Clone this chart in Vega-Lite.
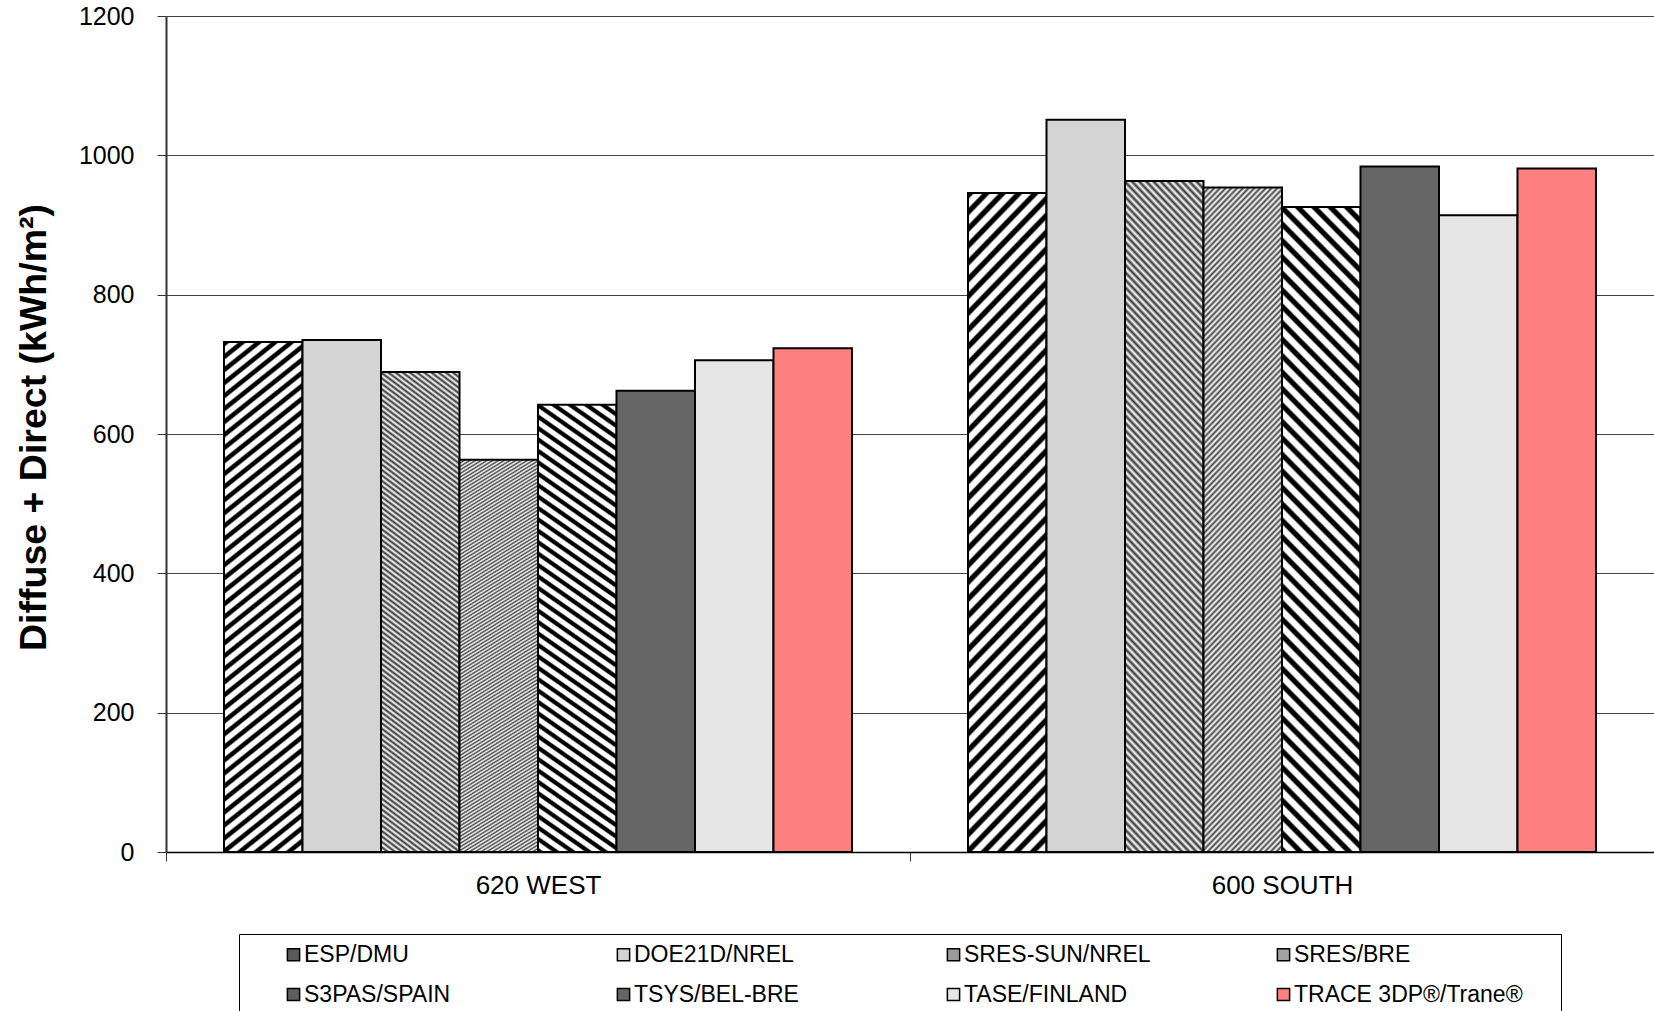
{
  "$schema": "https://vega.github.io/schema/vega-lite/v6.json",
  "width": 1488,
  "height": 836,
  "autosize": {"type": "none"},
  "padding": {"left": 166, "top": 16, "right": 0, "bottom": 159},
  "background": "white",
  "config": {
    "view": {"stroke": null},
    "font": "Liberation Sans"
  },
  "data": {
    "values": [
      {"case": "620 WEST", "program": "ESP/DMU", "value": 732},
      {"case": "620 WEST", "program": "DOE21D/NREL", "value": 735},
      {"case": "620 WEST", "program": "SRES-SUN/NREL", "value": 689},
      {"case": "620 WEST", "program": "SRES/BRE", "value": 563},
      {"case": "620 WEST", "program": "S3PAS/SPAIN", "value": 642},
      {"case": "620 WEST", "program": "TSYS/BEL-BRE", "value": 662},
      {"case": "620 WEST", "program": "TASE/FINLAND", "value": 706},
      {"case": "620 WEST", "program": "TRACE 3DP®/Trane®", "value": 723},
      {"case": "600 SOUTH", "program": "ESP/DMU", "value": 946},
      {"case": "600 SOUTH", "program": "DOE21D/NREL", "value": 1051},
      {"case": "600 SOUTH", "program": "SRES-SUN/NREL", "value": 963},
      {"case": "600 SOUTH", "program": "SRES/BRE", "value": 954},
      {"case": "600 SOUTH", "program": "S3PAS/SPAIN", "value": 926},
      {"case": "600 SOUTH", "program": "TSYS/BEL-BRE", "value": 984},
      {"case": "600 SOUTH", "program": "TASE/FINLAND", "value": 914},
      {"case": "600 SOUTH", "program": "TRACE 3DP®/Trane®", "value": 981}
    ]
  },
  "mark": {"type": "bar", "stroke": "black", "strokeWidth": 2},
  "encoding": {
    "x": {
      "field": "case",
      "type": "nominal",
      "sort": ["620 WEST", "600 SOUTH"],
      "scale": {"paddingInner": 0, "paddingOuter": 0},
      "axis": {
        "title": null,
        "labelAngle": 0,
        "labelFontSize": 26,
        "labelColor": "black",
        "labelPadding": 11,
        "tickBand": "extent",
        "tickSize": 9,
        "tickColor": "#333",
        "domainColor": "black",
        "domainWidth": 1.5,
        "grid": false
      }
    },
    "xOffset": {
      "field": "program",
      "type": "nominal",
      "sort": ["ESP/DMU", "DOE21D/NREL", "SRES-SUN/NREL", "SRES/BRE", "S3PAS/SPAIN", "TSYS/BEL-BRE", "TASE/FINLAND", "TRACE 3DP®/Trane®"],
      "scale": {"paddingInner": 0, "paddingOuter": 0.739}
    },
    "y": {
      "field": "value",
      "type": "quantitative",
      "scale": {"domain": [0, 1200], "nice": false},
      "axis": {
        "title": "Diffuse + Direct (kWh/m²)",
        "titleFontSize": 37.5,
        "titleFontWeight": "bold",
        "titleColor": "black",
        "titlePadding": 25,
        "titleY": 411,
        "values": [0, 200, 400, 600, 800, 1000, 1200],
        "format": "d",
        "labelFontSize": 25,
        "labelColor": "black",
        "labelPadding": 23,
        "tickSize": 9,
        "tickColor": "#333",
        "domainColor": "#333",
        "domainWidth": 2,
        "grid": true,
        "gridColor": "#444",
        "gridWidth": 1
      }
    },
    "fill": {
      "condition": [
        {"test": "datum.program === 'ESP/DMU'", "value": {"gradient": "linear", "x1": 0, "y1": 0, "x2": 0.136, "y2": 1.106, "stops": [
          {"offset": 0, "color": "#000"}, {"offset": 0.0068, "color": "#000"}, {"offset": 0.0102, "color": "#fff"}, {"offset": 0.0193, "color": "#fff"},
          {"offset": 0.0227, "color": "#000"}, {"offset": 0.0295, "color": "#000"}, {"offset": 0.033, "color": "#fff"}, {"offset": 0.042, "color": "#fff"},
          {"offset": 0.0455, "color": "#000"}, {"offset": 0.0523, "color": "#000"}, {"offset": 0.0557, "color": "#fff"}, {"offset": 0.0648, "color": "#fff"},
          {"offset": 0.0682, "color": "#000"}, {"offset": 0.075, "color": "#000"}, {"offset": 0.0784, "color": "#fff"}, {"offset": 0.0875, "color": "#fff"},
          {"offset": 0.0909, "color": "#000"}, {"offset": 0.0977, "color": "#000"}, {"offset": 0.1011, "color": "#fff"}, {"offset": 0.1102, "color": "#fff"},
          {"offset": 0.1136, "color": "#000"}, {"offset": 0.1205, "color": "#000"}, {"offset": 0.1239, "color": "#fff"}, {"offset": 0.133, "color": "#fff"},
          {"offset": 0.1364, "color": "#000"}, {"offset": 0.1432, "color": "#000"}, {"offset": 0.1466, "color": "#fff"}, {"offset": 0.1557, "color": "#fff"},
          {"offset": 0.1591, "color": "#000"}, {"offset": 0.1659, "color": "#000"}, {"offset": 0.1693, "color": "#fff"}, {"offset": 0.1784, "color": "#fff"},
          {"offset": 0.1818, "color": "#000"}, {"offset": 0.1886, "color": "#000"}, {"offset": 0.192, "color": "#fff"}, {"offset": 0.2011, "color": "#fff"},
          {"offset": 0.2045, "color": "#000"}, {"offset": 0.2114, "color": "#000"}, {"offset": 0.2148, "color": "#fff"}, {"offset": 0.2239, "color": "#fff"},
          {"offset": 0.2273, "color": "#000"}, {"offset": 0.2341, "color": "#000"}, {"offset": 0.2375, "color": "#fff"}, {"offset": 0.2466, "color": "#fff"},
          {"offset": 0.25, "color": "#000"}, {"offset": 0.2568, "color": "#000"}, {"offset": 0.2602, "color": "#fff"}, {"offset": 0.2693, "color": "#fff"},
          {"offset": 0.2727, "color": "#000"}, {"offset": 0.2795, "color": "#000"}, {"offset": 0.283, "color": "#fff"}, {"offset": 0.292, "color": "#fff"},
          {"offset": 0.2955, "color": "#000"}, {"offset": 0.3023, "color": "#000"}, {"offset": 0.3057, "color": "#fff"}, {"offset": 0.3148, "color": "#fff"},
          {"offset": 0.3182, "color": "#000"}, {"offset": 0.325, "color": "#000"}, {"offset": 0.3284, "color": "#fff"}, {"offset": 0.3375, "color": "#fff"},
          {"offset": 0.3409, "color": "#000"}, {"offset": 0.3477, "color": "#000"}, {"offset": 0.3511, "color": "#fff"}, {"offset": 0.3602, "color": "#fff"},
          {"offset": 0.3636, "color": "#000"}, {"offset": 0.3705, "color": "#000"}, {"offset": 0.3739, "color": "#fff"}, {"offset": 0.383, "color": "#fff"},
          {"offset": 0.3864, "color": "#000"}, {"offset": 0.3932, "color": "#000"}, {"offset": 0.3966, "color": "#fff"}, {"offset": 0.4057, "color": "#fff"},
          {"offset": 0.4091, "color": "#000"}, {"offset": 0.4159, "color": "#000"}, {"offset": 0.4193, "color": "#fff"}, {"offset": 0.4284, "color": "#fff"},
          {"offset": 0.4318, "color": "#000"}, {"offset": 0.4386, "color": "#000"}, {"offset": 0.442, "color": "#fff"}, {"offset": 0.4511, "color": "#fff"},
          {"offset": 0.4545, "color": "#000"}, {"offset": 0.4614, "color": "#000"}, {"offset": 0.4648, "color": "#fff"}, {"offset": 0.4739, "color": "#fff"},
          {"offset": 0.4773, "color": "#000"}, {"offset": 0.4841, "color": "#000"}, {"offset": 0.4875, "color": "#fff"}, {"offset": 0.4966, "color": "#fff"},
          {"offset": 0.5, "color": "#000"}, {"offset": 0.5068, "color": "#000"}, {"offset": 0.5102, "color": "#fff"}, {"offset": 0.5193, "color": "#fff"},
          {"offset": 0.5227, "color": "#000"}, {"offset": 0.5295, "color": "#000"}, {"offset": 0.533, "color": "#fff"}, {"offset": 0.542, "color": "#fff"},
          {"offset": 0.5455, "color": "#000"}, {"offset": 0.5523, "color": "#000"}, {"offset": 0.5557, "color": "#fff"}, {"offset": 0.5648, "color": "#fff"},
          {"offset": 0.5682, "color": "#000"}, {"offset": 0.575, "color": "#000"}, {"offset": 0.5784, "color": "#fff"}, {"offset": 0.5875, "color": "#fff"},
          {"offset": 0.5909, "color": "#000"}, {"offset": 0.5977, "color": "#000"}, {"offset": 0.6011, "color": "#fff"}, {"offset": 0.6102, "color": "#fff"},
          {"offset": 0.6136, "color": "#000"}, {"offset": 0.6205, "color": "#000"}, {"offset": 0.6239, "color": "#fff"}, {"offset": 0.633, "color": "#fff"},
          {"offset": 0.6364, "color": "#000"}, {"offset": 0.6432, "color": "#000"}, {"offset": 0.6466, "color": "#fff"}, {"offset": 0.6557, "color": "#fff"},
          {"offset": 0.6591, "color": "#000"}, {"offset": 0.6659, "color": "#000"}, {"offset": 0.6693, "color": "#fff"}, {"offset": 0.6784, "color": "#fff"},
          {"offset": 0.6818, "color": "#000"}, {"offset": 0.6886, "color": "#000"}, {"offset": 0.692, "color": "#fff"}, {"offset": 0.7011, "color": "#fff"},
          {"offset": 0.7045, "color": "#000"}, {"offset": 0.7114, "color": "#000"}, {"offset": 0.7148, "color": "#fff"}, {"offset": 0.7239, "color": "#fff"},
          {"offset": 0.7273, "color": "#000"}, {"offset": 0.7341, "color": "#000"}, {"offset": 0.7375, "color": "#fff"}, {"offset": 0.7466, "color": "#fff"},
          {"offset": 0.75, "color": "#000"}, {"offset": 0.7568, "color": "#000"}, {"offset": 0.7602, "color": "#fff"}, {"offset": 0.7693, "color": "#fff"},
          {"offset": 0.7727, "color": "#000"}, {"offset": 0.7795, "color": "#000"}, {"offset": 0.783, "color": "#fff"}, {"offset": 0.792, "color": "#fff"},
          {"offset": 0.7955, "color": "#000"}, {"offset": 0.8023, "color": "#000"}, {"offset": 0.8057, "color": "#fff"}, {"offset": 0.8148, "color": "#fff"},
          {"offset": 0.8182, "color": "#000"}, {"offset": 0.825, "color": "#000"}, {"offset": 0.8284, "color": "#fff"}, {"offset": 0.8375, "color": "#fff"},
          {"offset": 0.8409, "color": "#000"}, {"offset": 0.8477, "color": "#000"}, {"offset": 0.8511, "color": "#fff"}, {"offset": 0.8602, "color": "#fff"},
          {"offset": 0.8636, "color": "#000"}, {"offset": 0.8705, "color": "#000"}, {"offset": 0.8739, "color": "#fff"}, {"offset": 0.883, "color": "#fff"},
          {"offset": 0.8864, "color": "#000"}, {"offset": 0.8932, "color": "#000"}, {"offset": 0.8966, "color": "#fff"}, {"offset": 0.9057, "color": "#fff"},
          {"offset": 0.9091, "color": "#000"}, {"offset": 0.9159, "color": "#000"}, {"offset": 0.9193, "color": "#fff"}, {"offset": 0.9284, "color": "#fff"},
          {"offset": 0.9318, "color": "#000"}, {"offset": 0.9386, "color": "#000"}, {"offset": 0.942, "color": "#fff"}, {"offset": 0.9511, "color": "#fff"},
          {"offset": 0.9545, "color": "#000"}, {"offset": 0.9614, "color": "#000"}, {"offset": 0.9648, "color": "#fff"}, {"offset": 0.9739, "color": "#fff"},
          {"offset": 0.9773, "color": "#000"}, {"offset": 0.9841, "color": "#000"}, {"offset": 0.9875, "color": "#fff"}, {"offset": 0.9966, "color": "#fff"},
          {"offset": 1, "color": "#000"}
        ]}},
        {"test": "datum.program === 'S3PAS/SPAIN'", "value": {"gradient": "linear", "x1": 0, "y1": 1, "x2": 0.136, "y2": -0.106, "stops": [
          {"offset": 0, "color": "#000"}, {"offset": 0.0068, "color": "#000"}, {"offset": 0.0102, "color": "#fff"}, {"offset": 0.0193, "color": "#fff"},
          {"offset": 0.0227, "color": "#000"}, {"offset": 0.0295, "color": "#000"}, {"offset": 0.033, "color": "#fff"}, {"offset": 0.042, "color": "#fff"},
          {"offset": 0.0455, "color": "#000"}, {"offset": 0.0523, "color": "#000"}, {"offset": 0.0557, "color": "#fff"}, {"offset": 0.0648, "color": "#fff"},
          {"offset": 0.0682, "color": "#000"}, {"offset": 0.075, "color": "#000"}, {"offset": 0.0784, "color": "#fff"}, {"offset": 0.0875, "color": "#fff"},
          {"offset": 0.0909, "color": "#000"}, {"offset": 0.0977, "color": "#000"}, {"offset": 0.1011, "color": "#fff"}, {"offset": 0.1102, "color": "#fff"},
          {"offset": 0.1136, "color": "#000"}, {"offset": 0.1205, "color": "#000"}, {"offset": 0.1239, "color": "#fff"}, {"offset": 0.133, "color": "#fff"},
          {"offset": 0.1364, "color": "#000"}, {"offset": 0.1432, "color": "#000"}, {"offset": 0.1466, "color": "#fff"}, {"offset": 0.1557, "color": "#fff"},
          {"offset": 0.1591, "color": "#000"}, {"offset": 0.1659, "color": "#000"}, {"offset": 0.1693, "color": "#fff"}, {"offset": 0.1784, "color": "#fff"},
          {"offset": 0.1818, "color": "#000"}, {"offset": 0.1886, "color": "#000"}, {"offset": 0.192, "color": "#fff"}, {"offset": 0.2011, "color": "#fff"},
          {"offset": 0.2045, "color": "#000"}, {"offset": 0.2114, "color": "#000"}, {"offset": 0.2148, "color": "#fff"}, {"offset": 0.2239, "color": "#fff"},
          {"offset": 0.2273, "color": "#000"}, {"offset": 0.2341, "color": "#000"}, {"offset": 0.2375, "color": "#fff"}, {"offset": 0.2466, "color": "#fff"},
          {"offset": 0.25, "color": "#000"}, {"offset": 0.2568, "color": "#000"}, {"offset": 0.2602, "color": "#fff"}, {"offset": 0.2693, "color": "#fff"},
          {"offset": 0.2727, "color": "#000"}, {"offset": 0.2795, "color": "#000"}, {"offset": 0.283, "color": "#fff"}, {"offset": 0.292, "color": "#fff"},
          {"offset": 0.2955, "color": "#000"}, {"offset": 0.3023, "color": "#000"}, {"offset": 0.3057, "color": "#fff"}, {"offset": 0.3148, "color": "#fff"},
          {"offset": 0.3182, "color": "#000"}, {"offset": 0.325, "color": "#000"}, {"offset": 0.3284, "color": "#fff"}, {"offset": 0.3375, "color": "#fff"},
          {"offset": 0.3409, "color": "#000"}, {"offset": 0.3477, "color": "#000"}, {"offset": 0.3511, "color": "#fff"}, {"offset": 0.3602, "color": "#fff"},
          {"offset": 0.3636, "color": "#000"}, {"offset": 0.3705, "color": "#000"}, {"offset": 0.3739, "color": "#fff"}, {"offset": 0.383, "color": "#fff"},
          {"offset": 0.3864, "color": "#000"}, {"offset": 0.3932, "color": "#000"}, {"offset": 0.3966, "color": "#fff"}, {"offset": 0.4057, "color": "#fff"},
          {"offset": 0.4091, "color": "#000"}, {"offset": 0.4159, "color": "#000"}, {"offset": 0.4193, "color": "#fff"}, {"offset": 0.4284, "color": "#fff"},
          {"offset": 0.4318, "color": "#000"}, {"offset": 0.4386, "color": "#000"}, {"offset": 0.442, "color": "#fff"}, {"offset": 0.4511, "color": "#fff"},
          {"offset": 0.4545, "color": "#000"}, {"offset": 0.4614, "color": "#000"}, {"offset": 0.4648, "color": "#fff"}, {"offset": 0.4739, "color": "#fff"},
          {"offset": 0.4773, "color": "#000"}, {"offset": 0.4841, "color": "#000"}, {"offset": 0.4875, "color": "#fff"}, {"offset": 0.4966, "color": "#fff"},
          {"offset": 0.5, "color": "#000"}, {"offset": 0.5068, "color": "#000"}, {"offset": 0.5102, "color": "#fff"}, {"offset": 0.5193, "color": "#fff"},
          {"offset": 0.5227, "color": "#000"}, {"offset": 0.5295, "color": "#000"}, {"offset": 0.533, "color": "#fff"}, {"offset": 0.542, "color": "#fff"},
          {"offset": 0.5455, "color": "#000"}, {"offset": 0.5523, "color": "#000"}, {"offset": 0.5557, "color": "#fff"}, {"offset": 0.5648, "color": "#fff"},
          {"offset": 0.5682, "color": "#000"}, {"offset": 0.575, "color": "#000"}, {"offset": 0.5784, "color": "#fff"}, {"offset": 0.5875, "color": "#fff"},
          {"offset": 0.5909, "color": "#000"}, {"offset": 0.5977, "color": "#000"}, {"offset": 0.6011, "color": "#fff"}, {"offset": 0.6102, "color": "#fff"},
          {"offset": 0.6136, "color": "#000"}, {"offset": 0.6205, "color": "#000"}, {"offset": 0.6239, "color": "#fff"}, {"offset": 0.633, "color": "#fff"},
          {"offset": 0.6364, "color": "#000"}, {"offset": 0.6432, "color": "#000"}, {"offset": 0.6466, "color": "#fff"}, {"offset": 0.6557, "color": "#fff"},
          {"offset": 0.6591, "color": "#000"}, {"offset": 0.6659, "color": "#000"}, {"offset": 0.6693, "color": "#fff"}, {"offset": 0.6784, "color": "#fff"},
          {"offset": 0.6818, "color": "#000"}, {"offset": 0.6886, "color": "#000"}, {"offset": 0.692, "color": "#fff"}, {"offset": 0.7011, "color": "#fff"},
          {"offset": 0.7045, "color": "#000"}, {"offset": 0.7114, "color": "#000"}, {"offset": 0.7148, "color": "#fff"}, {"offset": 0.7239, "color": "#fff"},
          {"offset": 0.7273, "color": "#000"}, {"offset": 0.7341, "color": "#000"}, {"offset": 0.7375, "color": "#fff"}, {"offset": 0.7466, "color": "#fff"},
          {"offset": 0.75, "color": "#000"}, {"offset": 0.7568, "color": "#000"}, {"offset": 0.7602, "color": "#fff"}, {"offset": 0.7693, "color": "#fff"},
          {"offset": 0.7727, "color": "#000"}, {"offset": 0.7795, "color": "#000"}, {"offset": 0.783, "color": "#fff"}, {"offset": 0.792, "color": "#fff"},
          {"offset": 0.7955, "color": "#000"}, {"offset": 0.8023, "color": "#000"}, {"offset": 0.8057, "color": "#fff"}, {"offset": 0.8148, "color": "#fff"},
          {"offset": 0.8182, "color": "#000"}, {"offset": 0.825, "color": "#000"}, {"offset": 0.8284, "color": "#fff"}, {"offset": 0.8375, "color": "#fff"},
          {"offset": 0.8409, "color": "#000"}, {"offset": 0.8477, "color": "#000"}, {"offset": 0.8511, "color": "#fff"}, {"offset": 0.8602, "color": "#fff"},
          {"offset": 0.8636, "color": "#000"}, {"offset": 0.8705, "color": "#000"}, {"offset": 0.8739, "color": "#fff"}, {"offset": 0.883, "color": "#fff"},
          {"offset": 0.8864, "color": "#000"}, {"offset": 0.8932, "color": "#000"}, {"offset": 0.8966, "color": "#fff"}, {"offset": 0.9057, "color": "#fff"},
          {"offset": 0.9091, "color": "#000"}, {"offset": 0.9159, "color": "#000"}, {"offset": 0.9193, "color": "#fff"}, {"offset": 0.9284, "color": "#fff"},
          {"offset": 0.9318, "color": "#000"}, {"offset": 0.9386, "color": "#000"}, {"offset": 0.942, "color": "#fff"}, {"offset": 0.9511, "color": "#fff"},
          {"offset": 0.9545, "color": "#000"}, {"offset": 0.9614, "color": "#000"}, {"offset": 0.9648, "color": "#fff"}, {"offset": 0.9739, "color": "#fff"},
          {"offset": 0.9773, "color": "#000"}, {"offset": 0.9841, "color": "#000"}, {"offset": 0.9875, "color": "#fff"}, {"offset": 0.9966, "color": "#fff"},
          {"offset": 1, "color": "#000"}
        ]}},
        {"test": "datum.program === 'SRES-SUN/NREL'", "value": {"gradient": "linear", "x1": 0, "y1": 1, "x2": 0.136, "y2": -0.106, "stops": [
          {"offset": 0, "color": "#333"}, {"offset": 0.005, "color": "#fff"}, {"offset": 0.01, "color": "#333"}, {"offset": 0.015, "color": "#fff"}, {"offset": 0.02, "color": "#333"}, {"offset": 0.025, "color": "#fff"}, {"offset": 0.03, "color": "#333"}, {"offset": 0.035, "color": "#fff"}, {"offset": 0.04, "color": "#333"}, {"offset": 0.045, "color": "#fff"},
          {"offset": 0.05, "color": "#333"}, {"offset": 0.055, "color": "#fff"}, {"offset": 0.06, "color": "#333"}, {"offset": 0.065, "color": "#fff"}, {"offset": 0.07, "color": "#333"}, {"offset": 0.075, "color": "#fff"}, {"offset": 0.08, "color": "#333"}, {"offset": 0.085, "color": "#fff"}, {"offset": 0.09, "color": "#333"}, {"offset": 0.095, "color": "#fff"},
          {"offset": 0.1, "color": "#333"}, {"offset": 0.105, "color": "#fff"}, {"offset": 0.11, "color": "#333"}, {"offset": 0.115, "color": "#fff"}, {"offset": 0.12, "color": "#333"}, {"offset": 0.125, "color": "#fff"}, {"offset": 0.13, "color": "#333"}, {"offset": 0.135, "color": "#fff"}, {"offset": 0.14, "color": "#333"}, {"offset": 0.145, "color": "#fff"},
          {"offset": 0.15, "color": "#333"}, {"offset": 0.155, "color": "#fff"}, {"offset": 0.16, "color": "#333"}, {"offset": 0.165, "color": "#fff"}, {"offset": 0.17, "color": "#333"}, {"offset": 0.175, "color": "#fff"}, {"offset": 0.18, "color": "#333"}, {"offset": 0.185, "color": "#fff"}, {"offset": 0.19, "color": "#333"}, {"offset": 0.195, "color": "#fff"},
          {"offset": 0.2, "color": "#333"}, {"offset": 0.205, "color": "#fff"}, {"offset": 0.21, "color": "#333"}, {"offset": 0.215, "color": "#fff"}, {"offset": 0.22, "color": "#333"}, {"offset": 0.225, "color": "#fff"}, {"offset": 0.23, "color": "#333"}, {"offset": 0.235, "color": "#fff"}, {"offset": 0.24, "color": "#333"}, {"offset": 0.245, "color": "#fff"},
          {"offset": 0.25, "color": "#333"}, {"offset": 0.255, "color": "#fff"}, {"offset": 0.26, "color": "#333"}, {"offset": 0.265, "color": "#fff"}, {"offset": 0.27, "color": "#333"}, {"offset": 0.275, "color": "#fff"}, {"offset": 0.28, "color": "#333"}, {"offset": 0.285, "color": "#fff"}, {"offset": 0.29, "color": "#333"}, {"offset": 0.295, "color": "#fff"},
          {"offset": 0.3, "color": "#333"}, {"offset": 0.305, "color": "#fff"}, {"offset": 0.31, "color": "#333"}, {"offset": 0.315, "color": "#fff"}, {"offset": 0.32, "color": "#333"}, {"offset": 0.325, "color": "#fff"}, {"offset": 0.33, "color": "#333"}, {"offset": 0.335, "color": "#fff"}, {"offset": 0.34, "color": "#333"}, {"offset": 0.345, "color": "#fff"},
          {"offset": 0.35, "color": "#333"}, {"offset": 0.355, "color": "#fff"}, {"offset": 0.36, "color": "#333"}, {"offset": 0.365, "color": "#fff"}, {"offset": 0.37, "color": "#333"}, {"offset": 0.375, "color": "#fff"}, {"offset": 0.38, "color": "#333"}, {"offset": 0.385, "color": "#fff"}, {"offset": 0.39, "color": "#333"}, {"offset": 0.395, "color": "#fff"},
          {"offset": 0.4, "color": "#333"}, {"offset": 0.405, "color": "#fff"}, {"offset": 0.41, "color": "#333"}, {"offset": 0.415, "color": "#fff"}, {"offset": 0.42, "color": "#333"}, {"offset": 0.425, "color": "#fff"}, {"offset": 0.43, "color": "#333"}, {"offset": 0.435, "color": "#fff"}, {"offset": 0.44, "color": "#333"}, {"offset": 0.445, "color": "#fff"},
          {"offset": 0.45, "color": "#333"}, {"offset": 0.455, "color": "#fff"}, {"offset": 0.46, "color": "#333"}, {"offset": 0.465, "color": "#fff"}, {"offset": 0.47, "color": "#333"}, {"offset": 0.475, "color": "#fff"}, {"offset": 0.48, "color": "#333"}, {"offset": 0.485, "color": "#fff"}, {"offset": 0.49, "color": "#333"}, {"offset": 0.495, "color": "#fff"},
          {"offset": 0.5, "color": "#333"}, {"offset": 0.505, "color": "#fff"}, {"offset": 0.51, "color": "#333"}, {"offset": 0.515, "color": "#fff"}, {"offset": 0.52, "color": "#333"}, {"offset": 0.525, "color": "#fff"}, {"offset": 0.53, "color": "#333"}, {"offset": 0.535, "color": "#fff"}, {"offset": 0.54, "color": "#333"}, {"offset": 0.545, "color": "#fff"},
          {"offset": 0.55, "color": "#333"}, {"offset": 0.555, "color": "#fff"}, {"offset": 0.56, "color": "#333"}, {"offset": 0.565, "color": "#fff"}, {"offset": 0.57, "color": "#333"}, {"offset": 0.575, "color": "#fff"}, {"offset": 0.58, "color": "#333"}, {"offset": 0.585, "color": "#fff"}, {"offset": 0.59, "color": "#333"}, {"offset": 0.595, "color": "#fff"},
          {"offset": 0.6, "color": "#333"}, {"offset": 0.605, "color": "#fff"}, {"offset": 0.61, "color": "#333"}, {"offset": 0.615, "color": "#fff"}, {"offset": 0.62, "color": "#333"}, {"offset": 0.625, "color": "#fff"}, {"offset": 0.63, "color": "#333"}, {"offset": 0.635, "color": "#fff"}, {"offset": 0.64, "color": "#333"}, {"offset": 0.645, "color": "#fff"},
          {"offset": 0.65, "color": "#333"}, {"offset": 0.655, "color": "#fff"}, {"offset": 0.66, "color": "#333"}, {"offset": 0.665, "color": "#fff"}, {"offset": 0.67, "color": "#333"}, {"offset": 0.675, "color": "#fff"}, {"offset": 0.68, "color": "#333"}, {"offset": 0.685, "color": "#fff"}, {"offset": 0.69, "color": "#333"}, {"offset": 0.695, "color": "#fff"},
          {"offset": 0.7, "color": "#333"}, {"offset": 0.705, "color": "#fff"}, {"offset": 0.71, "color": "#333"}, {"offset": 0.715, "color": "#fff"}, {"offset": 0.72, "color": "#333"}, {"offset": 0.725, "color": "#fff"}, {"offset": 0.73, "color": "#333"}, {"offset": 0.735, "color": "#fff"}, {"offset": 0.74, "color": "#333"}, {"offset": 0.745, "color": "#fff"},
          {"offset": 0.75, "color": "#333"}, {"offset": 0.755, "color": "#fff"}, {"offset": 0.76, "color": "#333"}, {"offset": 0.765, "color": "#fff"}, {"offset": 0.77, "color": "#333"}, {"offset": 0.775, "color": "#fff"}, {"offset": 0.78, "color": "#333"}, {"offset": 0.785, "color": "#fff"}, {"offset": 0.79, "color": "#333"}, {"offset": 0.795, "color": "#fff"},
          {"offset": 0.8, "color": "#333"}, {"offset": 0.805, "color": "#fff"}, {"offset": 0.81, "color": "#333"}, {"offset": 0.815, "color": "#fff"}, {"offset": 0.82, "color": "#333"}, {"offset": 0.825, "color": "#fff"}, {"offset": 0.83, "color": "#333"}, {"offset": 0.835, "color": "#fff"}, {"offset": 0.84, "color": "#333"}, {"offset": 0.845, "color": "#fff"},
          {"offset": 0.85, "color": "#333"}, {"offset": 0.855, "color": "#fff"}, {"offset": 0.86, "color": "#333"}, {"offset": 0.865, "color": "#fff"}, {"offset": 0.87, "color": "#333"}, {"offset": 0.875, "color": "#fff"}, {"offset": 0.88, "color": "#333"}, {"offset": 0.885, "color": "#fff"}, {"offset": 0.89, "color": "#333"}, {"offset": 0.895, "color": "#fff"},
          {"offset": 0.9, "color": "#333"}, {"offset": 0.905, "color": "#fff"}, {"offset": 0.91, "color": "#333"}, {"offset": 0.915, "color": "#fff"}, {"offset": 0.92, "color": "#333"}, {"offset": 0.925, "color": "#fff"}, {"offset": 0.93, "color": "#333"}, {"offset": 0.935, "color": "#fff"}, {"offset": 0.94, "color": "#333"}, {"offset": 0.945, "color": "#fff"},
          {"offset": 0.95, "color": "#333"}, {"offset": 0.955, "color": "#fff"}, {"offset": 0.96, "color": "#333"}, {"offset": 0.965, "color": "#fff"}, {"offset": 0.97, "color": "#333"}, {"offset": 0.975, "color": "#fff"}, {"offset": 0.98, "color": "#333"}, {"offset": 0.985, "color": "#fff"}, {"offset": 0.99, "color": "#333"}, {"offset": 0.995, "color": "#fff"},
          {"offset": 1, "color": "#333"}
        ]}},
        {"test": "datum.program === 'SRES/BRE'", "value": {"gradient": "linear", "x1": 0, "y1": 0, "x2": 0.136, "y2": 1.106, "stops": [
          {"offset": 0, "color": "#444"}, {"offset": 0.004, "color": "#fff"}, {"offset": 0.008, "color": "#444"}, {"offset": 0.012, "color": "#fff"}, {"offset": 0.016, "color": "#444"}, {"offset": 0.02, "color": "#fff"}, {"offset": 0.024, "color": "#444"}, {"offset": 0.028, "color": "#fff"}, {"offset": 0.032, "color": "#444"}, {"offset": 0.036, "color": "#fff"},
          {"offset": 0.04, "color": "#444"}, {"offset": 0.044, "color": "#fff"}, {"offset": 0.048, "color": "#444"}, {"offset": 0.052, "color": "#fff"}, {"offset": 0.056, "color": "#444"}, {"offset": 0.06, "color": "#fff"}, {"offset": 0.064, "color": "#444"}, {"offset": 0.068, "color": "#fff"}, {"offset": 0.072, "color": "#444"}, {"offset": 0.076, "color": "#fff"},
          {"offset": 0.08, "color": "#444"}, {"offset": 0.084, "color": "#fff"}, {"offset": 0.088, "color": "#444"}, {"offset": 0.092, "color": "#fff"}, {"offset": 0.096, "color": "#444"}, {"offset": 0.1, "color": "#fff"}, {"offset": 0.104, "color": "#444"}, {"offset": 0.108, "color": "#fff"}, {"offset": 0.112, "color": "#444"}, {"offset": 0.116, "color": "#fff"},
          {"offset": 0.12, "color": "#444"}, {"offset": 0.124, "color": "#fff"}, {"offset": 0.128, "color": "#444"}, {"offset": 0.132, "color": "#fff"}, {"offset": 0.136, "color": "#444"}, {"offset": 0.14, "color": "#fff"}, {"offset": 0.144, "color": "#444"}, {"offset": 0.148, "color": "#fff"}, {"offset": 0.152, "color": "#444"}, {"offset": 0.156, "color": "#fff"},
          {"offset": 0.16, "color": "#444"}, {"offset": 0.164, "color": "#fff"}, {"offset": 0.168, "color": "#444"}, {"offset": 0.172, "color": "#fff"}, {"offset": 0.176, "color": "#444"}, {"offset": 0.18, "color": "#fff"}, {"offset": 0.184, "color": "#444"}, {"offset": 0.188, "color": "#fff"}, {"offset": 0.192, "color": "#444"}, {"offset": 0.196, "color": "#fff"},
          {"offset": 0.2, "color": "#444"}, {"offset": 0.204, "color": "#fff"}, {"offset": 0.208, "color": "#444"}, {"offset": 0.212, "color": "#fff"}, {"offset": 0.216, "color": "#444"}, {"offset": 0.22, "color": "#fff"}, {"offset": 0.224, "color": "#444"}, {"offset": 0.228, "color": "#fff"}, {"offset": 0.232, "color": "#444"}, {"offset": 0.236, "color": "#fff"},
          {"offset": 0.24, "color": "#444"}, {"offset": 0.244, "color": "#fff"}, {"offset": 0.248, "color": "#444"}, {"offset": 0.252, "color": "#fff"}, {"offset": 0.256, "color": "#444"}, {"offset": 0.26, "color": "#fff"}, {"offset": 0.264, "color": "#444"}, {"offset": 0.268, "color": "#fff"}, {"offset": 0.272, "color": "#444"}, {"offset": 0.276, "color": "#fff"},
          {"offset": 0.28, "color": "#444"}, {"offset": 0.284, "color": "#fff"}, {"offset": 0.288, "color": "#444"}, {"offset": 0.292, "color": "#fff"}, {"offset": 0.296, "color": "#444"}, {"offset": 0.3, "color": "#fff"}, {"offset": 0.304, "color": "#444"}, {"offset": 0.308, "color": "#fff"}, {"offset": 0.312, "color": "#444"}, {"offset": 0.316, "color": "#fff"},
          {"offset": 0.32, "color": "#444"}, {"offset": 0.324, "color": "#fff"}, {"offset": 0.328, "color": "#444"}, {"offset": 0.332, "color": "#fff"}, {"offset": 0.336, "color": "#444"}, {"offset": 0.34, "color": "#fff"}, {"offset": 0.344, "color": "#444"}, {"offset": 0.348, "color": "#fff"}, {"offset": 0.352, "color": "#444"}, {"offset": 0.356, "color": "#fff"},
          {"offset": 0.36, "color": "#444"}, {"offset": 0.364, "color": "#fff"}, {"offset": 0.368, "color": "#444"}, {"offset": 0.372, "color": "#fff"}, {"offset": 0.376, "color": "#444"}, {"offset": 0.38, "color": "#fff"}, {"offset": 0.384, "color": "#444"}, {"offset": 0.388, "color": "#fff"}, {"offset": 0.392, "color": "#444"}, {"offset": 0.396, "color": "#fff"},
          {"offset": 0.4, "color": "#444"}, {"offset": 0.404, "color": "#fff"}, {"offset": 0.408, "color": "#444"}, {"offset": 0.412, "color": "#fff"}, {"offset": 0.416, "color": "#444"}, {"offset": 0.42, "color": "#fff"}, {"offset": 0.424, "color": "#444"}, {"offset": 0.428, "color": "#fff"}, {"offset": 0.432, "color": "#444"}, {"offset": 0.436, "color": "#fff"},
          {"offset": 0.44, "color": "#444"}, {"offset": 0.444, "color": "#fff"}, {"offset": 0.448, "color": "#444"}, {"offset": 0.452, "color": "#fff"}, {"offset": 0.456, "color": "#444"}, {"offset": 0.46, "color": "#fff"}, {"offset": 0.464, "color": "#444"}, {"offset": 0.468, "color": "#fff"}, {"offset": 0.472, "color": "#444"}, {"offset": 0.476, "color": "#fff"},
          {"offset": 0.48, "color": "#444"}, {"offset": 0.484, "color": "#fff"}, {"offset": 0.488, "color": "#444"}, {"offset": 0.492, "color": "#fff"}, {"offset": 0.496, "color": "#444"}, {"offset": 0.5, "color": "#fff"}, {"offset": 0.504, "color": "#444"}, {"offset": 0.508, "color": "#fff"}, {"offset": 0.512, "color": "#444"}, {"offset": 0.516, "color": "#fff"},
          {"offset": 0.52, "color": "#444"}, {"offset": 0.524, "color": "#fff"}, {"offset": 0.528, "color": "#444"}, {"offset": 0.532, "color": "#fff"}, {"offset": 0.536, "color": "#444"}, {"offset": 0.54, "color": "#fff"}, {"offset": 0.544, "color": "#444"}, {"offset": 0.548, "color": "#fff"}, {"offset": 0.552, "color": "#444"}, {"offset": 0.556, "color": "#fff"},
          {"offset": 0.56, "color": "#444"}, {"offset": 0.564, "color": "#fff"}, {"offset": 0.568, "color": "#444"}, {"offset": 0.572, "color": "#fff"}, {"offset": 0.576, "color": "#444"}, {"offset": 0.58, "color": "#fff"}, {"offset": 0.584, "color": "#444"}, {"offset": 0.588, "color": "#fff"}, {"offset": 0.592, "color": "#444"}, {"offset": 0.596, "color": "#fff"},
          {"offset": 0.6, "color": "#444"}, {"offset": 0.604, "color": "#fff"}, {"offset": 0.608, "color": "#444"}, {"offset": 0.612, "color": "#fff"}, {"offset": 0.616, "color": "#444"}, {"offset": 0.62, "color": "#fff"}, {"offset": 0.624, "color": "#444"}, {"offset": 0.628, "color": "#fff"}, {"offset": 0.632, "color": "#444"}, {"offset": 0.636, "color": "#fff"},
          {"offset": 0.64, "color": "#444"}, {"offset": 0.644, "color": "#fff"}, {"offset": 0.648, "color": "#444"}, {"offset": 0.652, "color": "#fff"}, {"offset": 0.656, "color": "#444"}, {"offset": 0.66, "color": "#fff"}, {"offset": 0.664, "color": "#444"}, {"offset": 0.668, "color": "#fff"}, {"offset": 0.672, "color": "#444"}, {"offset": 0.676, "color": "#fff"},
          {"offset": 0.68, "color": "#444"}, {"offset": 0.684, "color": "#fff"}, {"offset": 0.688, "color": "#444"}, {"offset": 0.692, "color": "#fff"}, {"offset": 0.696, "color": "#444"}, {"offset": 0.7, "color": "#fff"}, {"offset": 0.704, "color": "#444"}, {"offset": 0.708, "color": "#fff"}, {"offset": 0.712, "color": "#444"}, {"offset": 0.716, "color": "#fff"},
          {"offset": 0.72, "color": "#444"}, {"offset": 0.724, "color": "#fff"}, {"offset": 0.728, "color": "#444"}, {"offset": 0.732, "color": "#fff"}, {"offset": 0.736, "color": "#444"}, {"offset": 0.74, "color": "#fff"}, {"offset": 0.744, "color": "#444"}, {"offset": 0.748, "color": "#fff"}, {"offset": 0.752, "color": "#444"}, {"offset": 0.756, "color": "#fff"},
          {"offset": 0.76, "color": "#444"}, {"offset": 0.764, "color": "#fff"}, {"offset": 0.768, "color": "#444"}, {"offset": 0.772, "color": "#fff"}, {"offset": 0.776, "color": "#444"}, {"offset": 0.78, "color": "#fff"}, {"offset": 0.784, "color": "#444"}, {"offset": 0.788, "color": "#fff"}, {"offset": 0.792, "color": "#444"}, {"offset": 0.796, "color": "#fff"},
          {"offset": 0.8, "color": "#444"}, {"offset": 0.804, "color": "#fff"}, {"offset": 0.808, "color": "#444"}, {"offset": 0.812, "color": "#fff"}, {"offset": 0.816, "color": "#444"}, {"offset": 0.82, "color": "#fff"}, {"offset": 0.824, "color": "#444"}, {"offset": 0.828, "color": "#fff"}, {"offset": 0.832, "color": "#444"}, {"offset": 0.836, "color": "#fff"},
          {"offset": 0.84, "color": "#444"}, {"offset": 0.844, "color": "#fff"}, {"offset": 0.848, "color": "#444"}, {"offset": 0.852, "color": "#fff"}, {"offset": 0.856, "color": "#444"}, {"offset": 0.86, "color": "#fff"}, {"offset": 0.864, "color": "#444"}, {"offset": 0.868, "color": "#fff"}, {"offset": 0.872, "color": "#444"}, {"offset": 0.876, "color": "#fff"},
          {"offset": 0.88, "color": "#444"}, {"offset": 0.884, "color": "#fff"}, {"offset": 0.888, "color": "#444"}, {"offset": 0.892, "color": "#fff"}, {"offset": 0.896, "color": "#444"}, {"offset": 0.9, "color": "#fff"}, {"offset": 0.904, "color": "#444"}, {"offset": 0.908, "color": "#fff"}, {"offset": 0.912, "color": "#444"}, {"offset": 0.916, "color": "#fff"},
          {"offset": 0.92, "color": "#444"}, {"offset": 0.924, "color": "#fff"}, {"offset": 0.928, "color": "#444"}, {"offset": 0.932, "color": "#fff"}, {"offset": 0.936, "color": "#444"}, {"offset": 0.94, "color": "#fff"}, {"offset": 0.944, "color": "#444"}, {"offset": 0.948, "color": "#fff"}, {"offset": 0.952, "color": "#444"}, {"offset": 0.956, "color": "#fff"},
          {"offset": 0.96, "color": "#444"}, {"offset": 0.964, "color": "#fff"}, {"offset": 0.968, "color": "#444"}, {"offset": 0.972, "color": "#fff"}, {"offset": 0.976, "color": "#444"}, {"offset": 0.98, "color": "#fff"}, {"offset": 0.984, "color": "#444"}, {"offset": 0.988, "color": "#fff"}, {"offset": 0.992, "color": "#444"}, {"offset": 0.996, "color": "#fff"},
          {"offset": 1, "color": "#444"}
        ]}}
      ],
      "field": "program",
      "type": "nominal",
      "scale": {
        "domain": ["ESP/DMU", "S3PAS/SPAIN", "DOE21D/NREL", "TSYS/BEL-BRE", "SRES-SUN/NREL", "TASE/FINLAND", "SRES/BRE", "TRACE 3DP®/Trane®"],
        "range": ["#5a5a5a", "#5e5e5e", "#d4d4d4", "#666666", "#9c9c9c", "#e6e6e6", "#a2a2a2", "#ff8080"]
      },
      "legend": {
        "title": " ",
        "titleOrient": "right",
        "titleFontSize": 2,
        "titlePadding": 29,
        "orient": "none",
        "legendX": 73,
        "legendY": 918,
        "columns": 4,
        "gridAlign": "all",
        "columnPadding": 45,
        "rowPadding": 16,
        "padding": 9,
        "symbolOffset": 34,
        "symbolType": "square",
        "symbolSize": 150,
        "symbolStrokeColor": "black",
        "symbolStrokeWidth": 1.5,
        "labelFontSize": 23,
        "labelColor": "black",
        "labelOffset": -1,
        "labelLimit": 400,
        "strokeColor": "black",
        "fillColor": "white"
      }
    }
  }
}
